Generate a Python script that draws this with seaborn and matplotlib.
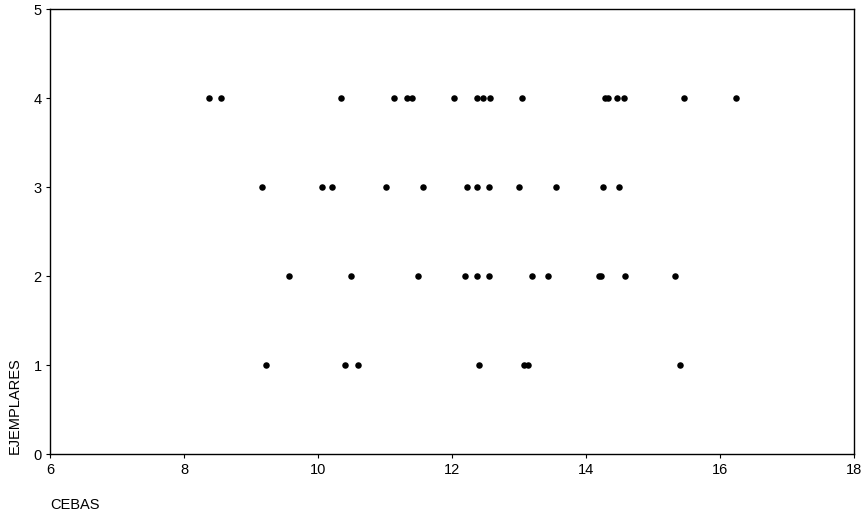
import matplotlib
matplotlib.use('Agg')
import matplotlib.pyplot as plt
import seaborn as sns
import pandas as pd

sns.set_theme(style='ticks')
plt.rcParams['font.family'] = ['Liberation Sans', 'DejaVu Sans']
plt.rcParams['text.color'] = 'black'
plt.rcParams['axes.labelcolor'] = 'black'
plt.rcParams['xtick.color'] = 'black'
plt.rcParams['ytick.color'] = 'black'

# CEBAS values per row of EJEMPLARES
cebas_4 = [8.37, 8.55, 10.34, 11.13, 11.33, 11.41, 12.03, 12.38, 12.46, 12.57,
           13.04, 14.29, 14.33, 14.47, 14.57, 15.47, 16.24]
cebas_3 = [9.17, 10.06, 10.21, 11.01, 11.57, 12.23, 12.38, 12.56, 13.00, 13.56,
           14.26, 14.49]
cebas_2 = [9.56, 10.49, 11.49, 12.20, 12.37, 12.55, 13.20, 13.44, 14.19, 14.22,
           14.58, 15.33]
cebas_1 = [9.22, 10.40, 10.59, 12.40, 13.07, 13.13, 15.40]

df = pd.DataFrame({
    'CEBAS': cebas_4 + cebas_3 + cebas_2 + cebas_1,
    'EJEMPLARES': [4] * len(cebas_4) + [3] * len(cebas_3)
                  + [2] * len(cebas_2) + [1] * len(cebas_1),
})

fig = plt.figure(figsize=(8.65, 5.14), dpi=100)
ax = fig.add_axes([0.058, 0.116, 0.929, 0.866])

sns.scatterplot(data=df, x='CEBAS', y='EJEMPLARES', ax=ax, color='black',
                s=22, linewidth=0, legend=False)

ax.set_xlim(6, 18)
ax.set_ylim(0, 5)
ax.set_xticks([6, 8, 10, 12, 14, 16, 18])
ax.set_yticks([0, 1, 2, 3, 4, 5])
ax.tick_params(labelsize=10.5, length=3, width=0.8, color='black', pad=3)
for sp in ax.spines.values():
    sp.set_color('black')
    sp.set_linewidth(1.0)

ax.set_xlabel('CEBAS', fontsize=10.5, ha='left', va='center')
ax.xaxis.set_label_coords(0.0, -0.114)
ax.set_ylabel('EJEMPLARES', fontsize=10.5, va='center', ha='left')
ax.yaxis.set_label_coords(-0.044, 0.0)

fig.savefig('out.png', dpi=100)
